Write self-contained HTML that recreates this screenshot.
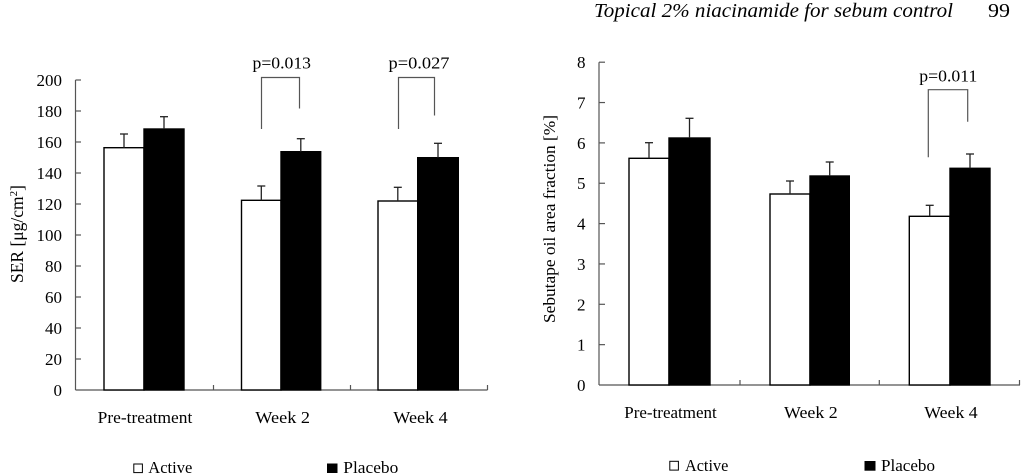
<!DOCTYPE html>
<html>
<head>
<meta charset="utf-8">
<style>
html,body{margin:0;padding:0;background:#fff;}
svg{display:block;}
text{font-family:"Liberation Serif",serif;fill:#000;}
</style>
</head>
<body>
<svg width="1022" height="476" viewBox="0 0 1022 476" xmlns="http://www.w3.org/2000/svg">
<!-- Header -->
<text x="594" y="17" font-size="20" font-style="italic" textLength="359" lengthAdjust="spacingAndGlyphs">Topical 2% niacinamide for sebum control</text>
<text x="988" y="17" font-size="20" textLength="22" lengthAdjust="spacingAndGlyphs">99</text>

<!-- ============ LEFT CHART ============ -->
<g stroke="#555" stroke-width="1.2" fill="none">
  <line x1="75.5" y1="80" x2="75.5" y2="390"/>
  <line x1="75.5" y1="390" x2="487.5" y2="390"/>
  <!-- y ticks -->
  <line x1="75.5" y1="80" x2="81" y2="80"/>
  <line x1="75.5" y1="111" x2="81" y2="111"/>
  <line x1="75.5" y1="142" x2="81" y2="142"/>
  <line x1="75.5" y1="173" x2="81" y2="173"/>
  <line x1="75.5" y1="204" x2="81" y2="204"/>
  <line x1="75.5" y1="235" x2="81" y2="235"/>
  <line x1="75.5" y1="266" x2="81" y2="266"/>
  <line x1="75.5" y1="297" x2="81" y2="297"/>
  <line x1="75.5" y1="328" x2="81" y2="328"/>
  <line x1="75.5" y1="359" x2="81" y2="359"/>
  <!-- x ticks -->
  <line x1="213.5" y1="390" x2="213.5" y2="385"/>
  <line x1="350.5" y1="390" x2="350.5" y2="385"/>
  <line x1="487.5" y1="390" x2="487.5" y2="385"/>
  <!-- brackets -->
  <polyline points="261.5,129 261.5,77.5 299.5,77.5 299.5,108.5"/>
  <polyline points="398.5,129 398.5,77.5 434.5,77.5 434.5,115.5"/>
</g>
<g font-size="17" text-anchor="end">
  <text x="62" y="86">200</text>
  <text x="62" y="117">180</text>
  <text x="62" y="148">160</text>
  <text x="62" y="179">140</text>
  <text x="62" y="210">120</text>
  <text x="62" y="241">100</text>
  <text x="62" y="272">80</text>
  <text x="62" y="303">60</text>
  <text x="62" y="334">40</text>
  <text x="62" y="365">20</text>
  <text x="62" y="396">0</text>
</g>
<text transform="translate(23,283) rotate(-90)" font-size="17.5">SER [μg/cm<tspan font-size="11" dy="-6">2</tspan><tspan dy="6">]</tspan></text>

<!-- bars left -->
<g stroke="#000" stroke-width="1.4">
  <rect x="104" y="147.7" width="40" height="242.3" fill="#fff"/>
  <rect x="144" y="129" width="40" height="261" fill="#000"/>
  <rect x="241.5" y="200.3" width="39.5" height="189.7" fill="#fff"/>
  <rect x="281" y="151.7" width="39.7" height="238.3" fill="#000"/>
  <rect x="378" y="201" width="39.7" height="189" fill="#fff"/>
  <rect x="417.7" y="157.7" width="40.6" height="232.3" fill="#000"/>
</g>
<g stroke="#222" stroke-width="1.3" fill="none">
  <line x1="124" y1="147.7" x2="124" y2="134"/><line x1="120" y1="134" x2="128" y2="134"/>
  <line x1="164" y1="129" x2="164" y2="116.7"/><line x1="160" y1="116.7" x2="168" y2="116.7"/>
  <line x1="261.3" y1="200.3" x2="261.3" y2="186"/><line x1="257.3" y1="186" x2="265.3" y2="186"/>
  <line x1="300.8" y1="151.7" x2="300.8" y2="138.7"/><line x1="296.8" y1="138.7" x2="304.8" y2="138.7"/>
  <line x1="397.8" y1="201" x2="397.8" y2="187.3"/><line x1="393.8" y1="187.3" x2="401.8" y2="187.3"/>
  <line x1="438" y1="157.7" x2="438" y2="143.3"/><line x1="434" y1="143.3" x2="442" y2="143.3"/>
</g>
<text x="252.5" y="68.5" font-size="16.5" textLength="58.5" lengthAdjust="spacingAndGlyphs">p=0.013</text>
<text x="388.5" y="68.5" font-size="16.5" textLength="61" lengthAdjust="spacingAndGlyphs">p=0.027</text>

<g font-size="17">
  <text x="97.7" y="423" textLength="94.6" lengthAdjust="spacingAndGlyphs">Pre-treatment</text>
  <text x="255.3" y="423" textLength="54.7" lengthAdjust="spacingAndGlyphs">Week 2</text>
  <text x="393.3" y="423" textLength="54.4" lengthAdjust="spacingAndGlyphs">Week 4</text>
</g>
<!-- legend left -->
<rect x="133.8" y="464" width="8.6" height="8.6" fill="#fff" stroke="#000" stroke-width="1"/>
<text x="148.3" y="473" font-size="17" textLength="44" lengthAdjust="spacingAndGlyphs">Active</text>
<rect x="327" y="463.5" width="10.5" height="9.5" fill="#000"/>
<text x="343.3" y="473" font-size="17" textLength="55" lengthAdjust="spacingAndGlyphs">Placebo</text>

<!-- ============ RIGHT CHART ============ -->
<g stroke="#555" stroke-width="1.2" fill="none">
  <line x1="599" y1="62.2" x2="599" y2="385"/>
  <line x1="599" y1="385" x2="1020" y2="385"/>
  <line x1="599" y1="62.2" x2="605" y2="62.2"/>
  <line x1="599" y1="102.55" x2="605" y2="102.55"/>
  <line x1="599" y1="142.9" x2="605" y2="142.9"/>
  <line x1="599" y1="183.25" x2="605" y2="183.25"/>
  <line x1="599" y1="223.6" x2="605" y2="223.6"/>
  <line x1="599" y1="263.95" x2="605" y2="263.95"/>
  <line x1="599" y1="304.3" x2="605" y2="304.3"/>
  <line x1="599" y1="344.65" x2="605" y2="344.65"/>
  <line x1="740" y1="385" x2="740" y2="380"/>
  <line x1="879.3" y1="385" x2="879.3" y2="380"/>
  <line x1="1019.5" y1="385" x2="1019.5" y2="380"/>
  <polyline points="928.3,157.3 928.3,89.7 967.7,89.7 967.7,121.7"/>
</g>
<g font-size="17" text-anchor="end">
  <text x="585.5" y="68.2">8</text>
  <text x="585.5" y="108.5">7</text>
  <text x="585.5" y="148.9">6</text>
  <text x="585.5" y="189.2">5</text>
  <text x="585.5" y="229.6">4</text>
  <text x="585.5" y="270">3</text>
  <text x="585.5" y="310.3">2</text>
  <text x="585.5" y="350.6">1</text>
  <text x="585.5" y="391">0</text>
</g>
<text transform="translate(555,323) rotate(-90)" font-size="17" textLength="208" lengthAdjust="spacingAndGlyphs">Sebutape oil area fraction [%]</text>

<g stroke="#000" stroke-width="1.4">
  <rect x="629" y="158.3" width="40" height="226.7" fill="#fff"/>
  <rect x="669" y="138" width="41" height="247" fill="#000"/>
  <rect x="770" y="194" width="40" height="191" fill="#fff"/>
  <rect x="810" y="176" width="39.3" height="209" fill="#000"/>
  <rect x="909.3" y="216.3" width="40.7" height="168.7" fill="#fff"/>
  <rect x="950" y="168.3" width="40" height="216.7" fill="#000"/>
</g>
<g stroke="#222" stroke-width="1.3" fill="none">
  <line x1="649" y1="158.3" x2="649" y2="142.7"/><line x1="645" y1="142.7" x2="653" y2="142.7"/>
  <line x1="689.5" y1="138" x2="689.5" y2="118.3"/><line x1="685.5" y1="118.3" x2="693.5" y2="118.3"/>
  <line x1="790" y1="194" x2="790" y2="181"/><line x1="786" y1="181" x2="794" y2="181"/>
  <line x1="829.7" y1="176" x2="829.7" y2="162"/><line x1="825.7" y1="162" x2="833.7" y2="162"/>
  <line x1="929.7" y1="216.3" x2="929.7" y2="205.3"/><line x1="925.7" y1="205.3" x2="933.7" y2="205.3"/>
  <line x1="970" y1="168.3" x2="970" y2="154"/><line x1="966" y1="154" x2="974" y2="154"/>
</g>
<text x="919.3" y="81.5" font-size="16.5" textLength="58" lengthAdjust="spacingAndGlyphs">p=0.011</text>

<g font-size="17">
  <text x="624.3" y="418" textLength="92.4" lengthAdjust="spacingAndGlyphs">Pre-treatment</text>
  <text x="784" y="418" textLength="53.7" lengthAdjust="spacingAndGlyphs">Week 2</text>
  <text x="924.3" y="418" textLength="53.4" lengthAdjust="spacingAndGlyphs">Week 4</text>
</g>
<rect x="669.8" y="461.3" width="8.6" height="8.8" fill="#fff" stroke="#000" stroke-width="1"/>
<text x="685" y="471" font-size="17" textLength="43.3" lengthAdjust="spacingAndGlyphs">Active</text>
<rect x="864.5" y="461" width="11" height="9.7" fill="#000"/>
<text x="881" y="471" font-size="17" textLength="54" lengthAdjust="spacingAndGlyphs">Placebo</text>
</svg>
</body>
</html>
